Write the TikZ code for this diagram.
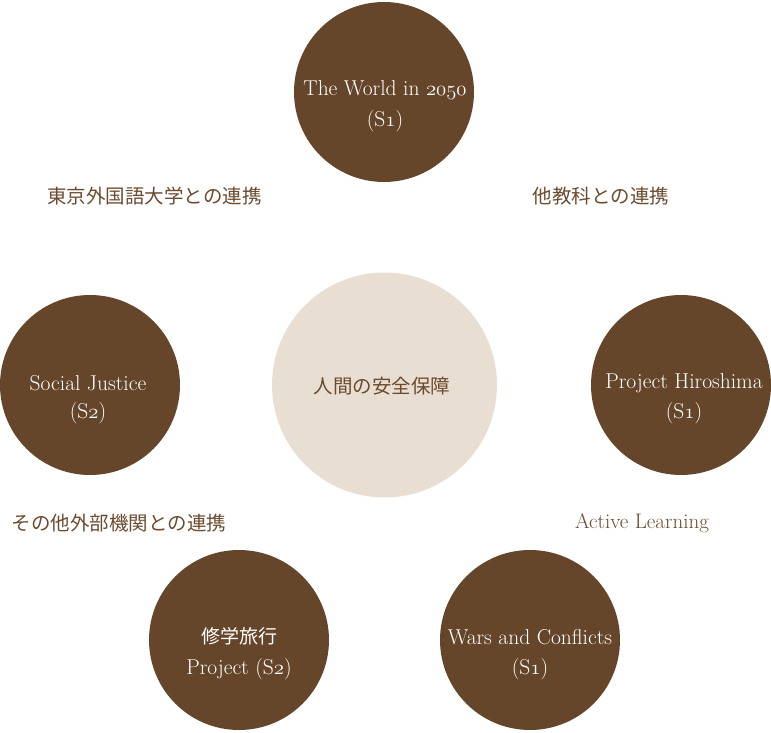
\documentclass[tikz,border=0pt]{standalone}
\usepackage{fontspec}
\newfontfamily\cjk{Noto Sans CJK JP}
\definecolor{darkbrown}{HTML}{66462B}
\definecolor{lightbeige}{HTML}{E8DFD2}
\definecolor{txtbrown}{HTML}{6B4A2E}
\newcommand{\osn}[1]{{\usefont{OML}{cmm}{m}{it}#1}}
\tikzset{
  bigdisc/.style={circle, fill=darkbrown, minimum size=180pt, inner sep=0pt},
  coredisc/.style={circle, fill=lightbeige, minimum size=225pt, inner sep=0pt},
  disctext/.style={text=white, font=\fontsize{21.5}{24}\selectfont, inner sep=0pt, anchor=center},
  jplabel/.style={text=txtbrown, font=\fontsize{19.5}{22}\selectfont\cjk, inner sep=0pt},
  enlabel/.style={text=txtbrown, font=\fontsize{21}{24}\selectfont, inner sep=0pt},
}
\begin{document}
\begin{tikzpicture}[x=1pt,y=-1pt]
\useasboundingbox (0,0) rectangle (771,733);
% discs
\node[coredisc] (core) at (384.5,385) {};
\node[bigdisc] (top) at (384,92) {};
\node[bigdisc] (left) at (90,385) {};
\node[bigdisc] (right) at (681,385) {};
\node[bigdisc] (bl) at (239,640) {};
\node[bigdisc] (br) at (530,640) {};
% core text
\node[jplabel] (coretxt) at (382,386) {人間の安全保障};
% disc texts
\node[disctext] (top1) at (385,90) {The World in \osn{2050}};
\node[disctext] (top2) at (385,121) {(S\osn{1})};
\node[disctext] (left1) at (88,383) {Social Justice};
\node[disctext] (left2) at (88,413) {(S\osn{2})};
\node[disctext] (right1) at (684,383) {Project Hiroshima};
\node[disctext] (right2) at (684,413) {(S\osn{1})};
\node[disctext, font=\fontsize{19}{22}\selectfont\cjk] (bl1) at (239,636) {修学旅行};
\node[disctext] (bl2) at (239,669) {Project (S\osn{2})};
\node[disctext] (br1) at (530,637) {Wars and Conflicts};
\node[disctext] (br2) at (530,669) {(S\osn{1})};
% outer labels
\node[jplabel] (tufs) at (154.5,196) {東京外国語大学との連携};
\node[jplabel] (other) at (601,196) {他教科との連携};
\node[jplabel] (ext) at (119,523) {その他外部機関との連携};
\node[enlabel] (active) at (642,523) {Active Learning};
\end{tikzpicture}
\end{document}
